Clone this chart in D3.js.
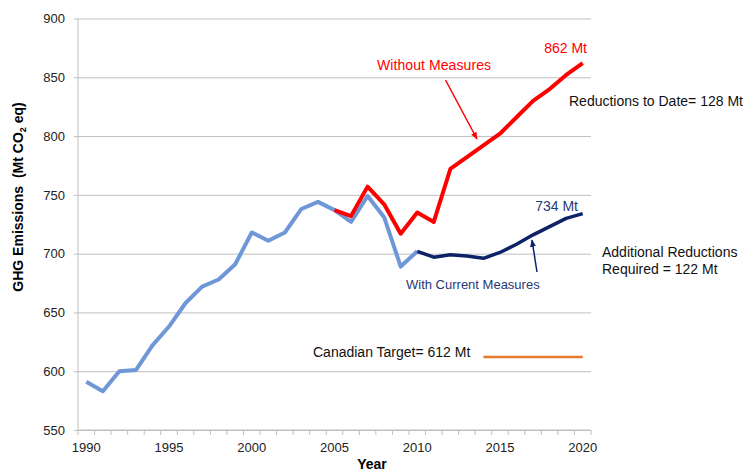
<!DOCTYPE html>
<html lang="en">
<head>
    <meta charset="UTF-8">
    <title>GHG Emissions</title>
    <script src="https://d3js.org/d3.v7.min.js"></script>
    <style>
        body { margin: 0; background: #fff; }
        svg { font-family: "Liberation Sans", Arial, sans-serif; }
    </style>
</head>
<body>

<script>
    // Data
    var years = d3.range(1990, 2021);
    var histYears = d3.range(1990, 2011);
    var historical = [591, 583, 600, 601, 622, 638, 658, 672, 678, 691,
                      718, 711, 718, 738, 744, 737, 727, 749, 731, 689, 702];
    var withoutYears = d3.range(2005, 2021);
    var withoutMeasures = [737, 732, 757, 742, 717, 735, 727, 772, 782, 792,
                           802, 816, 830, 840, 852, 862];
    var withYears = d3.range(2010, 2021);
    var withMeasures = [702, 697, 699, 698, 696, 701, 708, 716, 723, 730, 734];
    var targetYears = [2014, 2020];
    var targetValue = 612;
    var yTicks = [550, 600, 650, 700, 750, 800, 850, 900];
    var xTickLabels = [1990, 1995, 2000, 2005, 2010, 2015, 2020];

    var width = 745, height = 473;
    var mLeft = 78, mRight = 591, mTop = 18.5, mBottom = 430;

    var svg = d3.select("body").append("svg")
        .attr("width", width)
        .attr("height", height);

    var x = d3.scaleBand().domain(years).range([mLeft, mRight]);
    var y = d3.scaleLinear().domain([550, 900]).range([mBottom, mTop]);
    var cx = function (yr) { return x(yr) + x.bandwidth() / 2; };

    // Gridlines + y labels
    svg.append("g")
        .attr("transform", "translate(" + mLeft + ",0)")
        .call(d3.axisLeft(y).tickValues(yTicks).tickSize(4).tickPadding(9))
        .call(g => g.select(".domain").remove())
        .call(g => g.selectAll("line").attr("stroke", "#bfbfbf").attr("x1", -4).attr("x2", mRight - mLeft))
        .call(g => g.selectAll("text").attr("font-size", 13).attr("fill", "#222")
            .attr("font-family", "Liberation Sans, Arial, sans-serif"));

    // y axis line
    svg.append("line")
        .attr("x1", mLeft).attr("x2", mLeft).attr("y1", mTop).attr("y2", mBottom)
        .attr("stroke", "#bfbfbf");

    // x axis line and tick marks at band boundaries
    svg.append("line")
        .attr("x1", mLeft).attr("x2", mRight).attr("y1", mBottom).attr("y2", mBottom)
        .attr("stroke", "#bfbfbf");
    var bounds = years.map(d => x(d)).concat([mRight]);
    svg.append("g").selectAll("line")
        .data(bounds)
        .enter().append("line")
        .attr("x1", d => d).attr("x2", d => d)
        .attr("y1", mBottom).attr("y2", mBottom + 5)
        .attr("stroke", "#bfbfbf");

    svg.append("g")
        .attr("transform", "translate(0," + mBottom + ")")
        .call(d3.axisBottom(x).tickValues(xTickLabels).tickSize(0).tickPadding(13))
        .call(g => g.select(".domain").remove())
        .call(g => g.selectAll("text").attr("font-size", 13).attr("fill", "#222")
            .attr("font-family", "Liberation Sans, Arial, sans-serif"));

    // Lines
    var line = d3.line().x(d => cx(d[0])).y(d => y(d[1]));

    svg.append("path")
        .datum(histYears.map((d, i) => [d, historical[i]]))
        .attr("fill", "none").attr("stroke", "#6f97d8").attr("stroke-width", 4)
        .attr("stroke-linejoin", "round").attr("d", line);

    svg.append("path")
        .datum(withoutYears.map((d, i) => [d, withoutMeasures[i]]))
        .attr("fill", "none").attr("stroke", "#ff0000").attr("stroke-width", 4)
        .attr("stroke-linejoin", "round").attr("d", line);

    svg.append("path")
        .datum(withYears.map((d, i) => [d, withMeasures[i]]))
        .attr("fill", "none").attr("stroke", "#0c2467").attr("stroke-width", 3.5)
        .attr("stroke-linejoin", "round").attr("d", line);

    svg.append("path")
        .datum(targetYears.map(d => [d, targetValue]))
        .attr("fill", "none").attr("stroke", "#e8782a").attr("stroke-width", 2.5)
        .attr("d", line);

    // Arrow markers
    var defs = svg.append("defs");
    [["arrRed", "#ff0000"], ["arrNavy", "#0c2467"]].forEach(function (m) {
        defs.append("marker")
            .attr("id", m[0]).attr("viewBox", "0 0 10 10")
            .attr("refX", 9).attr("refY", 5)
            .attr("markerWidth", 5).attr("markerHeight", 5)
            .attr("orient", "auto")
            .append("path").attr("d", "M0,1 L10,5 L0,9 Z").attr("fill", m[1]);
    });

    svg.append("line")
        .attr("x1", 445.5).attr("y1", 80).attr("x2", 477).attr("y2", 139)
        .attr("stroke", "#ff0000").attr("stroke-width", 1.5)
        .attr("marker-end", "url(#arrRed)");

    svg.append("line")
        .attr("x1", 537).attr("y1", 272).attr("x2", 532).attr("y2", 240)
        .attr("stroke", "#0c2467").attr("stroke-width", 1.5)
        .attr("marker-end", "url(#arrNavy)");

    // Annotations
    function label(txt, xx, yy, color, size, anchor) {
        return svg.append("text")
            .attr("x", xx).attr("y", yy)
            .attr("fill", color)
            .attr("font-size", size)
            .attr("text-anchor", anchor || "start")
            .text(txt);
    }
    label("Without Measures", 377, 70, "#ff0000", 14).attr("textLength", 114);
    label("862 Mt", 587, 53, "#ff0000", 14, "end");
    label("Reductions to Date= 128 Mt", 569, 106, "#111", 14);
    label("734 Mt", 578, 211, "#1f3a78", 14, "end");
    label("With Current Measures", 406, 289, "#1f3a78", 13);
    label("Additional Reductions", 602, 257, "#111", 14);
    label("Required = 122 Mt", 602, 274, "#111", 14);
    label("Canadian Target= 612 Mt", 313, 357, "#111", 14);

    // Axis titles
    svg.append("text")
        .attr("x", 372).attr("y", 469)
        .attr("text-anchor", "middle")
        .attr("font-size", 14).attr("font-weight", "bold")
        .text("Year");

    var yt = svg.append("text")
        .attr("transform", "translate(23,197) rotate(-90)")
        .attr("text-anchor", "middle")
        .attr("font-size", 14).attr("font-weight", "bold")
        .style("white-space", "pre");
    yt.append("tspan").text("GHG Emissions  (Mt CO");
    yt.append("tspan").attr("font-size", 9).attr("dy", 3).text("2");
    yt.append("tspan").attr("dy", -3).text(" eq)");
</script>

</body>
</html>
